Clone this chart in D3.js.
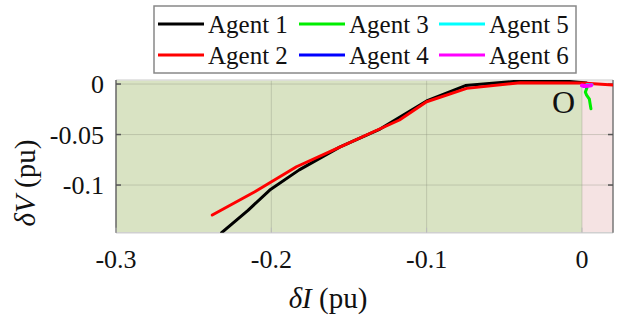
<!DOCTYPE html>
<html>
<head>
<meta charset="utf-8">
<script src="https://cdn.jsdelivr.net/npm/d3@7"></script>
<style>
  html, body { margin: 0; padding: 0; background: #fff; }
  svg { display: block; }
  svg text { font-family: "Liberation Serif", Tinos, "Times New Roman", Times, "DejaVu Serif", serif; }
</style>
</head>
<body>
<svg id="chart" width="628" height="320"></svg>
<script>
// ---- data ----
const agentNames = ["Agent 1", "Agent 2", "Agent 3", "Agent 4", "Agent 5", "Agent 6"];
const agentColors = ["#000000", "#ff0000", "#00ee00", "#0000ff", "#00ffff", "#ff00ff"];

const agent1 = [[-0.232,-0.1472],[-0.215,-0.125],[-0.201,-0.105],[-0.182,-0.085],[-0.156,-0.0625],[-0.13,-0.0446],[-0.1,-0.0168],[-0.075,-0.0015],[-0.04,0.003],[-0.015,0.0035],[0.003,0.001]];
const agent2 = [[-0.238,-0.1297],[-0.2106,-0.1066],[-0.1838,-0.0819],[-0.1623,-0.067],[-0.1175,-0.0356],[-0.1,-0.0175],[-0.0742,-0.0043],[-0.0398,0.0013],[0,0.001],[0.02,-0.001]];
const agent3 = [[0.003,-0.001],[0.0032,-0.004],[0.0022,-0.008],[0.003,-0.011],[0.0048,-0.015],[0.0052,-0.019],[0.0058,-0.0245]];
const agent4 = [[0.001,-0.002],[0.0025,-0.0028]];
const agent5 = [[0.003,-0.0008],[0.0065,-0.0008]];
const agent6 = [[0.0,-0.0015],[0.002,-0.002],[0.004,-0.0018],[0.006,-0.0012]];
const seriesData = [agent1, agent2, agent3, agent4, agent5, agent6];

const xTicks = [-0.3, -0.2, -0.1, 0];
const xTickLabels = ["-0.3", "-0.2", "-0.1", "0"];
const yTicks = [0, -0.05, -0.1];
const yTickLabels = ["0", "-0.05", "-0.1"];
const xDomain = [-0.3, 0.02];
const yDomain = [-0.1472, 0.004];
const stableRegion = [-0.3, 0];
const unstableRegion = [0, 0.02];

// ---- layout ----
const svg = d3.select("#chart");
const L = 116, R = 613, T = 80, B = 232.7;
const x = d3.scaleLinear().domain(xDomain).range([L, R]);
const y = d3.scaleLinear().domain(yDomain).range([B, T]);

const defs = svg.append("defs");
defs.append("clipPath").attr("id", "clip")
  .append("rect").attr("x", L).attr("y", T).attr("width", R - L).attr("height", B - T);

// background regions
svg.append("rect").attr("x", x(stableRegion[0])).attr("y", T)
  .attr("width", x(stableRegion[1]) - x(stableRegion[0])).attr("height", B - T)
  .attr("fill", "#d9e3c3");
svg.append("rect").attr("x", x(unstableRegion[0])).attr("y", T)
  .attr("width", x(unstableRegion[1]) - x(unstableRegion[0])).attr("height", B - T)
  .attr("fill", "#f5e3e3");

// grid
const grid = svg.append("g").attr("stroke", "#8a8f7a").attr("stroke-opacity", 0.35).attr("stroke-width", 1);
xTicks.filter(t => t > xDomain[0] && t < xDomain[1]).forEach(t => {
  grid.append("line").attr("x1", x(t)).attr("x2", x(t)).attr("y1", T).attr("y2", B);
});
yTicks.filter(t => t > yDomain[0] && t < yDomain[1]).forEach(t => {
  grid.append("line").attr("x1", L).attr("x2", R).attr("y1", y(t)).attr("y2", y(t));
});

// box
svg.append("line").attr("x1", L).attr("x2", R).attr("y1", T).attr("y2", T).attr("stroke", "#dcdcdc").attr("stroke-width", 1.5);
svg.append("line").attr("x1", L).attr("x2", R).attr("y1", B).attr("y2", B).attr("stroke", "#d0d0d0").attr("stroke-width", 1.5);
svg.append("line").attr("x1", L).attr("x2", L).attr("y1", T).attr("y2", B).attr("stroke", "#666").attr("stroke-width", 1.5);
svg.append("line").attr("x1", R).attr("x2", R).attr("y1", T).attr("y2", B).attr("stroke", "#777").attr("stroke-width", 1.5);

// ticks (inward)
const tk = svg.append("g").attr("stroke", "#555").attr("stroke-width", 1.5);
yTicks.forEach(t => {
  tk.append("line").attr("x1", L).attr("x2", L + 5).attr("y1", y(t)).attr("y2", y(t));
  tk.append("line").attr("x1", R).attr("x2", R - 5).attr("y1", y(t)).attr("y2", y(t));
});
xTicks.forEach(t => {
  svg.append("line").attr("x1", x(t)).attr("x2", x(t)).attr("y1", B).attr("y2", B - 5)
    .attr("stroke", "#bbb").attr("stroke-width", 1);
});

// tick labels
svg.append("g").selectAll("text").data(xTicks).join("text")
  .attr("x", d => x(d)).attr("y", 268).attr("text-anchor", "middle")
  .attr("font-size", 26).attr("fill", "#111")
  .text((d, i) => xTickLabels[i]);
svg.append("g").selectAll("text").data(yTicks).join("text")
  .attr("x", 104).attr("y", d => y(d) + 9).attr("text-anchor", "end")
  .attr("font-size", 26).attr("fill", "#111")
  .text((d, i) => yTickLabels[i]);

// axis titles
const xt = svg.append("text").attr("x", 328).attr("y", 308).attr("text-anchor", "middle")
  .attr("font-size", 29).attr("fill", "#111");
xt.append("tspan").attr("font-style", "italic").text("δI");
xt.append("tspan").text(" (pu)");
const yt = svg.append("text").attr("transform", "translate(35,183) rotate(-90)")
  .attr("text-anchor", "middle").attr("font-size", 29).attr("fill", "#111");
yt.append("tspan").attr("font-style", "italic").text("δV");
yt.append("tspan").text(" (pu)");

// lines
const line = d3.line().x(d => x(d[0])).y(d => y(d[1]));
const lines = svg.append("g").attr("clip-path", "url(#clip)");
seriesData.forEach((s, i) => {
  lines.append("path").attr("d", line(s)).attr("fill", "none")
    .attr("stroke", agentColors[i]).attr("stroke-width", i === 5 ? 4 : 3)
    .attr("stroke-linejoin", "round").attr("stroke-linecap", "round");
});

// O label
svg.append("text").attr("x", 552).attr("y", 113).attr("font-size", 32).attr("fill", "#111").text("O");

// legend
const lg = svg.append("g");
lg.append("rect").attr("x", 154).attr("y", 6).attr("width", 422).attr("height", 67)
  .attr("fill", "#fff").attr("stroke", "#888").attr("stroke-width", 1.5);
const colX = [158, 299, 439];
const rowY = [24, 55];
agentNames.forEach((name, i) => {
  const c = Math.floor(i / 2), r = i % 2;
  lg.append("line").attr("x1", colX[c]).attr("x2", colX[c] + 46)
    .attr("y1", rowY[r]).attr("y2", rowY[r])
    .attr("stroke", agentColors[i]).attr("stroke-width", 3);
  lg.append("text").attr("x", colX[c] + 50).attr("y", rowY[r] + 9)
    .attr("font-size", 25).attr("fill", "#111").text(name);
});
</script>
</body>
</html>
